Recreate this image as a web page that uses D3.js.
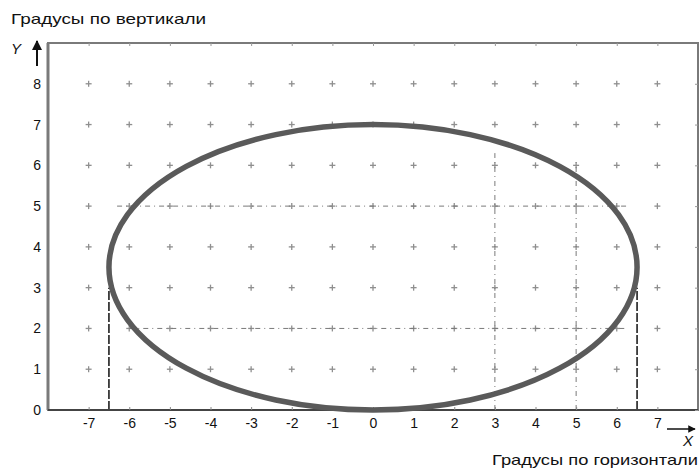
<!DOCTYPE html>
<html><head><meta charset="utf-8">
<script src="https://cdn.jsdelivr.net/npm/d3@7/dist/d3.min.js"></script>
<style>body{margin:0;background:#fff;} text{font-family:"Liberation Sans",Arial,sans-serif;}</style>
</head><body>
<svg id="c" width="700" height="469"></svg>
<script>
const xTicks = [-7,-6,-5,-4,-3,-2,-1,0,1,2,3,4,5,6,7];
const yTicks = [0,1,2,3,4,5,6,7,8];
const gridX = [-7,-6,-5,-4,-3,-2,-1,0,1,2,3,4,5,6,7];
const gridY = [1,2,3,4,5,6,7,8];
const ellipseCenter = [0, 3.5];
const ellipseRadii = [6.5, 3.5];
const verticalDashed = [-6.5, 6.5];
const verticalDashedTop = 3;
const hLines = [{y:5,x0:-6.3,x1:6.3},{y:2,x0:-6.0,x1:6.2}];
const vLines = [{x:3,y0:0,y1:6.3},{x:5,y0:0,y1:6.1}];
const titleY = "Градусы по вертикали";
const titleX = "Градусы по горизонтали";

const svg = d3.select("#c");
const x = d3.scaleLinear().domain([-8,8]).range([48,698]);
const y = d3.scaleLinear().domain([0,9]).range([410,43]);

// grid marks
const marks = svg.append("g").attr("stroke","#8f8f8f").attr("stroke-width",1.3);
gridY.forEach(gy=>gridX.forEach(gx=>{
  const cx=x(gx), cy=y(gy);
  marks.append("line").attr("x1",cx-3).attr("x2",cx+3).attr("y1",cy).attr("y2",cy);
  marks.append("line").attr("x1",cx).attr("x2",cx).attr("y1",cy-3).attr("y2",cy+3);
}));

// dash-dot lines
const dd = svg.append("g").attr("stroke","#7a7a7a").attr("stroke-width",1).attr("stroke-dasharray","5,4,1,4");
hLines.forEach(l=>dd.append("line").attr("x1",x(l.x0)).attr("x2",x(l.x1)).attr("y1",y(l.y)).attr("y2",y(l.y)));
vLines.forEach(l=>dd.append("line").attr("x1",x(l.x)).attr("x2",x(l.x)).attr("y1",y(l.y0)).attr("y2",y(l.y1)));

// dashed verticals
verticalDashed.forEach(v=>svg.append("line").attr("x1",x(v)).attr("x2",x(v)).attr("y1",y(0)).attr("y2",y(verticalDashedTop))
  .attr("stroke","#111").attr("stroke-width",1.5).attr("stroke-dasharray","9,2"));

// frame
svg.append("rect").attr("x",x(-8)).attr("y",y(9)).attr("width",x(8)-x(-8)).attr("height",y(0)-y(9))
  .attr("fill","none").attr("stroke","#7a7a7a").attr("stroke-width",2);
svg.append("line").attr("x1",x(-8)).attr("x2",x(-8)).attr("y1",y(0)).attr("y2",y(9)).attr("stroke","#7a7a7a").attr("stroke-width",3);
svg.append("line").attr("x1",x(-8)).attr("x2",x(8)).attr("y1",y(0)).attr("y2",y(0)).attr("stroke","#333").attr("stroke-width",1.5);

// axes
const ax = svg.append("g").attr("transform",`translate(0,${y(0)})`)
  .call(d3.axisBottom(x).tickValues(xTicks).tickSize(-3).tickPadding(8).tickFormat(d=>String(d)));
ax.select(".domain").remove();
ax.selectAll("line").attr("stroke","#888");
ax.selectAll("text").attr("font-size",14).attr("fill","#111");
const axTop = svg.append("g").attr("transform",`translate(0,${y(9)})`)
  .call(d3.axisTop(x).tickValues(xTicks).tickSize(-3).tickFormat(""));
axTop.select(".domain").remove(); axTop.selectAll("line").attr("stroke","#999");

const ay = svg.append("g").attr("transform",`translate(${x(-8)},0)`)
  .call(d3.axisLeft(y).tickValues(yTicks).tickSize(0).tickPadding(7).tickFormat(d=>String(d)));
ay.select(".domain").remove();
ay.selectAll("text").attr("font-size",14).attr("fill","#111");
const ayR = svg.append("g").attr("transform",`translate(${x(8)},0)`)
  .call(d3.axisRight(y).tickValues(yTicks).tickSize(-3).tickFormat(""));
ayR.select(".domain").remove(); ayR.selectAll("line").attr("stroke","#999");

// ellipse
svg.append("ellipse").attr("cx",x(ellipseCenter[0])).attr("cy",y(ellipseCenter[1]))
  .attr("rx",x(ellipseRadii[0])-x(0)).attr("ry",y(0)-y(ellipseRadii[1]))
  .attr("fill","none").attr("stroke","#5a5a5a").attr("stroke-width",5.5);

// arrows
const defs = svg.append("defs");
defs.append("marker").attr("id","ah").attr("viewBox","0 0 10 10").attr("refX",9).attr("refY",5)
  .attr("markerWidth",5).attr("markerHeight",5).attr("orient","auto")
  .append("path").attr("d","M0,0L10,5L0,10z").attr("fill","#111");
svg.append("line").attr("x1",37).attr("x2",37).attr("y1",66).attr("y2",41).attr("stroke","#111").attr("stroke-width",2).attr("marker-end","url(#ah)");
svg.append("line").attr("x1",667).attr("x2",695).attr("y1",429).attr("y2",429).attr("stroke","#111").attr("stroke-width",1.5).attr("marker-end","url(#ah)");

svg.append("text").attr("x",11).attr("y",54).attr("font-size",15).attr("font-style","italic").attr("fill","#111").text("Y");
svg.append("text").attr("x",683).attr("y",446).attr("font-size",15).attr("font-style","italic").attr("fill","#111").text("X");
svg.append("text").attr("x",11).attr("y",24).attr("font-size",15).attr("fill","#111")
  .attr("textLength",195).attr("lengthAdjust","spacingAndGlyphs").text(titleY);
svg.append("text").attr("x",698).attr("y",465).attr("text-anchor","end").attr("font-size",15).attr("fill","#111")
  .attr("textLength",206).attr("lengthAdjust","spacingAndGlyphs").text(titleX);
</script>
</body></html>
